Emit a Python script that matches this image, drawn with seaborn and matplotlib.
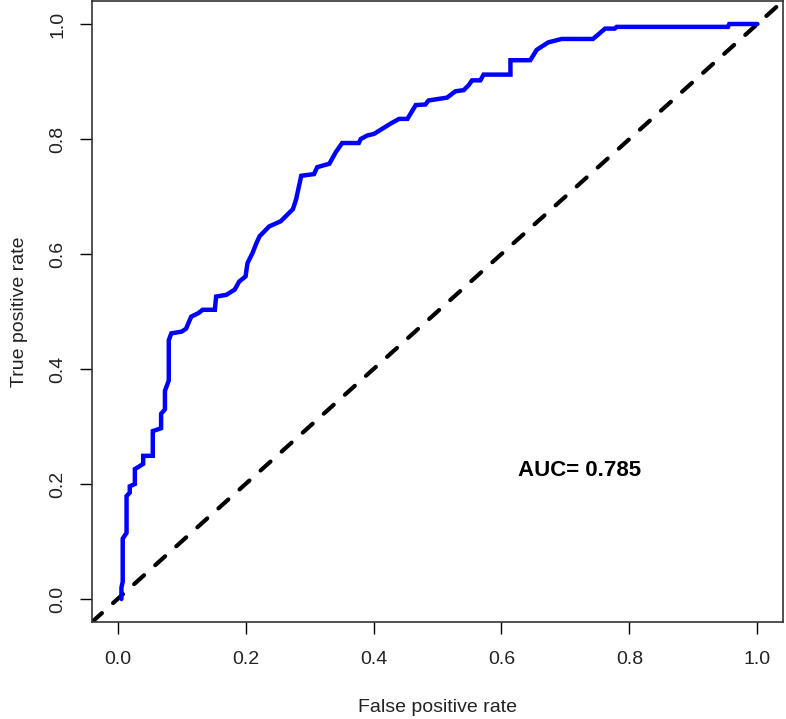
import matplotlib
matplotlib.use("Agg")
import matplotlib.pyplot as plt
import seaborn as sns
import pandas as pd

fpr = [0.006, 0.006, 0.008, 0.008, 0.014, 0.014, 0.019, 0.019, 0.027, 0.027, 0.033, 0.040, 0.040,
       0.055, 0.055, 0.068, 0.068, 0.074, 0.074, 0.080, 0.080, 0.084, 0.100, 0.107, 0.115, 0.126,
       0.133, 0.152, 0.154, 0.170, 0.183, 0.190, 0.200, 0.203, 0.211, 0.217, 0.222, 0.237, 0.255,
       0.274, 0.279, 0.287, 0.307, 0.312, 0.331, 0.341, 0.351, 0.377, 0.380, 0.390, 0.401, 0.414,
       0.427, 0.440, 0.453, 0.466, 0.481, 0.486, 0.515, 0.528, 0.541, 0.549, 0.554, 0.567, 0.572,
       0.614, 0.614, 0.645, 0.655, 0.673, 0.694, 0.743, 0.762, 0.777, 0.780, 0.954, 0.956, 1.0]
tpr = [0.0, 0.02, 0.03, 0.105, 0.115, 0.179, 0.185, 0.196, 0.2, 0.226, 0.23, 0.235, 0.249,
       0.249, 0.292, 0.297, 0.322, 0.33, 0.362, 0.38, 0.45, 0.462, 0.465, 0.47, 0.491, 0.497,
       0.503, 0.503, 0.526, 0.529, 0.538, 0.552, 0.561, 0.584, 0.602, 0.619, 0.631, 0.648, 0.657,
       0.678, 0.695, 0.736, 0.739, 0.751, 0.757, 0.777, 0.793, 0.793, 0.8, 0.806, 0.809, 0.818,
       0.827, 0.835, 0.835, 0.859, 0.86, 0.867, 0.872, 0.883, 0.885, 0.894, 0.902, 0.902, 0.912,
       0.912, 0.937, 0.937, 0.955, 0.968, 0.974, 0.974, 0.992, 0.992, 0.995, 0.995, 1.0, 1.0]
ticks = [0.0, 0.2, 0.4, 0.6, 0.8, 1.0]
tick_labels = ["0.0", "0.2", "0.4", "0.6", "0.8", "1.0"]
auc_text = "AUC= 0.785"

sns.set_style("white")
plt.rcParams['font.family'] = ['Liberation Sans', 'DejaVu Sans']

df = pd.DataFrame({"fpr": fpr, "tpr": tpr})

fig = plt.figure(figsize=(7.86, 7.19), dpi=100)
ax = fig.add_axes([92/786, 1 - 622/719, 691/786, 621/719])

ax.axline((0, 0), (1, 1), color="black", lw=3, dashes=(3.2, 3.6),
          dash_capstyle="round", zorder=2)
sns.lineplot(data=df, x="fpr", y="tpr", sort=False, estimator=None, ax=ax,
             color="#0000FF", lw=3.2, zorder=3, solid_joinstyle="miter")

ax.set_xlim(-0.04, 1.04)
ax.set_ylim(-0.04, 1.04)
ax.set_xticks(ticks)
ax.set_xticklabels(tick_labels)
ax.set_yticks(ticks)
ax.set_yticklabels(tick_labels, rotation=90, va="center")
ax.tick_params(axis="both", direction="out", length=8.5, width=1, color="black",
               labelsize=14, labelcolor="#222222", bottom=True, left=True)
ax.tick_params(axis="x", pad=12.5)
ax.tick_params(axis="y", pad=10)
for s in ax.spines.values():
    s.set_color("#333333")
    s.set_linewidth(1.2)

ax.set_xlabel("False positive rate", fontsize=14, color="#222222", labelpad=22)
ax.set_ylabel("True positive rate", fontsize=14, color="#222222", labelpad=15.5)

ax.text(0.722, 0.223, auc_text, fontsize=16, fontweight="bold", ha="center", va="center",
        color="black")

fig.savefig("out.png", dpi=100)
